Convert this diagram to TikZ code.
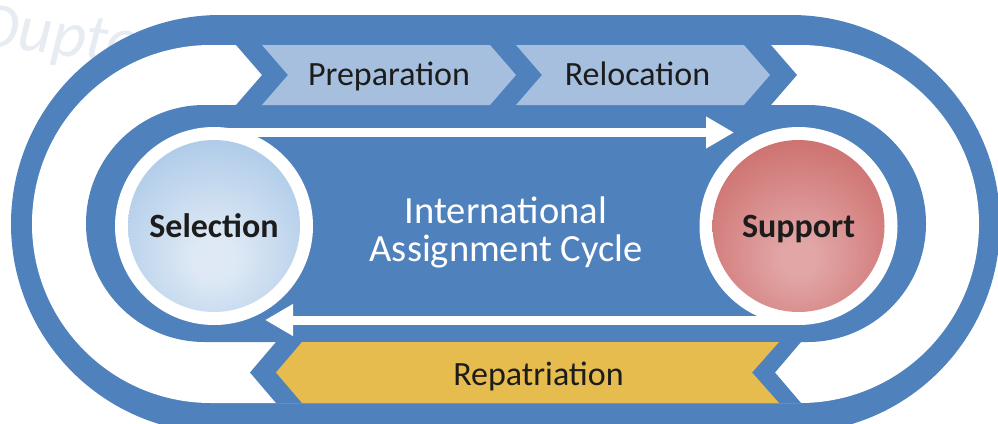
\documentclass[tikz,border=0pt]{standalone}
\usepackage{fontspec}
\setmainfont{Carlito}
\usetikzlibrary{arrows.meta,calc}
\definecolor{ringblue}{HTML}{4F81BD}
\definecolor{chevblue}{HTML}{A7BFDE}
\definecolor{gold}{HTML}{E6BC4E}
\definecolor{redE}{HTML}{C0504D}
\definecolor{redC}{HTML}{E2A6A6}
\definecolor{bluE}{HTML}{8CB5E0}
\definecolor{bluC}{HTML}{DEE9F5}
\definecolor{wmc}{HTML}{E6ECF2}
\definecolor{labelc}{HTML}{1C1C1C}
\pgfdeclareradialshading{selshade}{\pgfpoint{0bp}{-10bp}}{color(0bp)=(bluC); color(6bp)=(bluC); color(52bp)=(bluE); color(100bp)=(bluE)}
\pgfdeclareradialshading{supshade}{\pgfpoint{0bp}{-10bp}}{color(0bp)=(redC); color(5bp)=(redC); color(50bp)=(redE); color(100bp)=(redE)}
\pgfdeclarelayer{back}
\pgfdeclarelayer{mid}
\pgfsetlayers{back,mid,main}
\begin{document}
\begin{tikzpicture}[x=1pt,y=-1pt,
  lbl/.style={font=\fontsize{34}{40}\selectfont, text=labelc, anchor=base, inner sep=0pt},
  halo/.style={circle, fill=white, minimum size=198pt, inner sep=0pt},
  ball/.style={circle, minimum size=172pt, inner sep=0pt, text height=22pt, text depth=0pt,
    font=\bfseries\fontsize{34}{40}\selectfont, text=labelc},
  flow/.style={draw=white, line width=9pt, -{Triangle[length=28pt,width=30pt]}},
  wmark/.style={font=\itshape\fontsize{66}{66}\selectfont, text=wmc, anchor=base west, inner sep=0pt}
]
\useasboundingbox (0,0) rectangle (998,423);
\clip (0,0) rectangle (998,423);
\begin{pgfonlayer}{back}
  \node[wmark, rotate=-7] (wmk) at (-24,45) {Dupte};
  % outer ring
  \fill[ringblue, rounded corners=208.9pt] (11,15) rectangle (1000,433);
  \fill[white, rounded corners=178.9pt] (32,45) rectangle (979,403);
  % straight blue runs of the outer track
  \fill[ringblue] (236,45) -- (771,45) -- (797,75) -- (771,105) -- (236,105) -- (262,75) -- cycle;
  \fill[ringblue] (276,342) -- (801,342) -- (775,372.5) -- (801,403) -- (276,403) -- (250,372.5) -- cycle;
  % inner track
  \fill[ringblue, rounded corners=118.4pt] (86,105) rectangle (926,342);
  % chevrons
  \fill[chevblue] (262,45) -- (490,45) -- (516,75) -- (490,105) -- (262,105) -- (288,75) -- cycle;
  \fill[chevblue] (516,45) -- (744,45) -- (770,75) -- (744,105) -- (516,105) -- (542,75) -- cycle;
  \fill[gold] (302,342) -- (779,342) -- (752,372.5) -- (779,403) -- (302,403) -- (276,372.5) -- cycle;
\end{pgfonlayer}

\node[lbl] (prep) at (389,85) {Preparation};
\node[lbl] (reloc) at (637.5,85) {Relocation};
\node[lbl] (repat) at (538.5,385) {Repatriation};

\node[halo] (selhalo) at (214,226) {};
\node[halo] (suphalo) at (798.5,226) {};
\node[ball, shading=selshade] (sel) at (selhalo) {Selection};
\node[ball, shading=supshade] (sup) at (suphalo) {Support};

\begin{pgfonlayer}{mid}
  \draw[flow] ($(sel.center)+(0,-93.5)$) -- ($(sup.center)+(-64.5,-93.5)$);
  \draw[flow] ($(sup.center)+(0,94)$) -- ($(sel.center)+(51,94)$);
\end{pgfonlayer}

\node[align=center, text=white, font=\fontsize{38.5}{38}\selectfont, inner sep=0pt] (title) at (506,232) {International\\Assignment Cycle};
\end{tikzpicture}
\end{document}
